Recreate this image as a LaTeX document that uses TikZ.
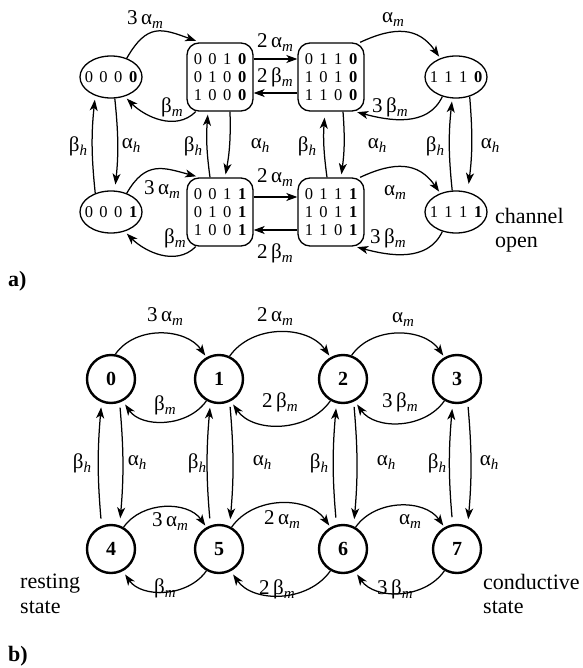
\documentclass[tikz,border=0pt]{standalone}
\usepackage{fontspec}
\setmainfont{Liberation Serif}
\usetikzlibrary{arrows.meta,shapes.geometric,calc}

\newcommand\subm{\raisebox{-4pt}{\fontsize{15}{15}\selectfont\itshape m}}
\newcommand\subh{\raisebox{-4pt}{\fontsize{15}{15}\selectfont\itshape h}}
\newcommand\alm{α\subm}
\newcommand\bem{β\subm}
\newcommand\alh{α\subh}
\newcommand\beh{β\subh}
\newcommand\bits[4]{#1\hspace{6.5pt}#2\hspace{6.5pt}#3\hspace{6.5pt}\textbf{#4}}

\begin{document}
\begin{tikzpicture}[x=1pt,y=1pt,
  every node/.style={font=\fontsize{21}{24}\selectfont},
  lab/.style={inner sep=0pt},
  txt/.style={inner sep=0pt, anchor=west, align=left, font=\fontsize{22}{24.5}\selectfont},
  st/.style={ellipse, draw, line width=1.3pt, minimum width=62pt, minimum height=42pt, inner xsep=-8pt, inner ysep=0pt, font=\fontsize{16.5}{18.3}\selectfont},
  bx/.style={draw, rounded corners=12pt, line width=1.3pt, minimum width=66pt, minimum height=68pt, inner sep=0pt, align=center, font=\fontsize{16.5}{18.3}\selectfont},
  cs/.style={circle, draw, line width=2.4pt, minimum size=48pt, inner sep=0pt, font=\fontsize{20}{20}\selectfont\bfseries},
  arr/.style={-{Stealth[length=11pt,width=8pt,inset=3pt]}, line width=1.25pt},
]
\useasboundingbox (0,0) rectangle (582,-668);

% ---------------- part a ----------------
\node[st] (A0) at (111,-77) {\bits0000};
\node[bx] (A1) at (220,-77) {\bits0010\\\bits0100\\\bits1000};
\node[bx] (A2) at (331,-77) {\bits0110\\\bits1010\\\bits1100};
\node[st] (A3) at (456,-77) {\bits1110};
\node[st] (A4) at (111,-212) {\bits0001};
\node[bx] (A5) at (220,-212) {\bits0011\\\bits0101\\\bits1001};
\node[bx] (A6) at (331,-212) {\bits0111\\\bits1011\\\bits1101};
\node[st] (A7) at (456,-212) {\bits1111};

% row 1 horizontal
\draw[arr, shorten >=4pt] (A0.50) to[out=60,in=160,looseness=1.4] (A1.120);
\node[lab] (la1) at (145,-20) {3\,\alm};
\draw[arr, shorten >=3pt] (A1.-125) to[out=-135,in=-45] (A0.-55);
\node[lab] (la2) at (172,-107) {\bem};
\draw[arr] ([yshift=18pt]A1.east) -- ([yshift=18pt]A2.west);
\node[lab] (la3) at (275,-43) {2\,\alm};
\draw[arr] ([yshift=-16pt]A2.west) -- ([yshift=-16pt]A1.east);
\node[lab] (la4) at (275,-77) {2\,\bem};
\draw[arr, shorten >=2pt] (A2.50) to[out=25,in=125,looseness=1.2] (A3.130);
\node[lab] (la5) at (393,-20) {\alm};
\draw[arr, shorten >=2pt] (A3.-125) to[out=-115,in=-15] (A2.-55);
\node[lab] (la6) at (390,-107) {3\,\bem};

% row 2 horizontal
\draw[arr, shorten >=4pt] (A4.50) to[out=60,in=165,looseness=1.3] (A5.120);
\node[lab] (la7) at (162,-190) {3\,\alm};
\draw[arr, shorten >=3pt] (A5.-125) to[out=-135,in=-45] (A4.-55);
\node[lab] (la8) at (175,-238) {\bem};
\draw[arr] ([yshift=15pt]A5.east) -- ([yshift=15pt]A6.west);
\node[lab] (la9) at (275,-178) {2\,\alm};
\draw[arr] ([yshift=-18pt]A6.west) -- ([yshift=-18pt]A5.east);
\node[lab] (la10) at (275,-253) {2\,\bem};
\draw[arr, shorten >=2pt] (A6.50) to[out=25,in=125,looseness=1.2] (A7.130);
\node[lab] (la11) at (395,-193) {\alm};
\draw[arr, shorten >=2pt] (A7.-125) to[out=-115,in=-15] (A6.-55);
\node[lab] (la12) at (388,-238) {3\,\bem};

% verticals
\draw[arr, shorten >=4pt] (A4.130) to[bend left=6] (A0.-130);
\draw[arr, shorten >=6pt] (A0.-80) to[bend left=6] (A4.80);
\draw[arr, shorten >=3pt] ([xshift=-10pt]A5.north) to[bend left=6] ([xshift=-12pt]A1.south);
\draw[arr, shorten >=3pt] ([xshift=10pt]A1.south) to[bend left=6] ([xshift=5pt]A5.north);
\draw[arr, shorten >=6pt] ([xshift=-4pt]A6.north) to[bend left=6] ([xshift=-6pt]A2.south);
\draw[arr, shorten >=3pt] ([xshift=12pt]A2.south) to[bend left=6] ([xshift=10pt]A6.north);
\draw[arr, shorten >=3pt] (A7.100) to[bend left=6] (A3.-100);
\draw[arr, shorten >=8pt] (A3.-55) to[bend left=6] (A7.60);

\node[lab] (lv1) at (78,-146) {\beh};
\node[lab] (lv2) at (131,-146) {\alh};
\node[lab] (lv3) at (193,-146) {\beh};
\node[lab] (lv4) at (260,-146) {\alh};
\node[lab] (lv5) at (307,-146) {\beh};
\node[lab] (lv6) at (377,-146) {\alh};
\node[lab] (lv7) at (435,-146) {\beh};
\node[lab] (lv8) at (490,-146) {\alh};

\node[txt] (chan) at (495,-230) {channel\\open};
\node[txt] (pa) at (8,-281) {\textbf{a)}};

% ---------------- part b ----------------
\node[cs] (B0) at (111,-379) {0};
\node[cs] (B1) at (219,-379) {1};
\node[cs] (B2) at (343,-379) {2};
\node[cs] (B3) at (457,-379) {3};
\node[cs] (B4) at (111,-549) {4};
\node[cs] (B5) at (219,-549) {5};
\node[cs] (B6) at (343,-549) {6};
\node[cs] (B7) at (457,-549) {7};

% row 1
\draw[arr, shorten >=2pt] (B0.80) to[out=55,in=125] (B1.120);
\node[lab] (lb1) at (165,-317) {3\,\alm};
\draw[arr, shorten >=4pt] (B1.-120) to[out=-125,in=-55] (B0.-62);
\node[lab] (lb2) at (165,-405) {\bem};
\draw[arr, shorten >=2pt] (B1.65) to[out=55,in=125] (B2.120);
\node[lab] (lb3) at (275,-317) {2\,\alm};
\draw[arr, shorten >=4pt] (B2.-120) to[out=-125,in=-55] (B1.-62);
\node[lab] (lb4) at (280,-402) {2\,\bem};
\draw[arr, shorten >=2pt] (B2.70) to[out=55,in=125] (B3.120);
\node[lab] (lb5) at (403,-320) {\alm};
\draw[arr, shorten >=4pt] (B3.-120) to[out=-125,in=-55] (B2.-62);
\node[lab] (lb6) at (400,-402) {3\,\bem};

% row 2
\draw[arr, shorten >=2pt] (B4.60) to[out=55,in=125] (B5.120);
\node[lab] (lb7) at (170,-522) {3\,\alm};
\draw[arr, shorten >=4pt] (B5.-120) to[out=-125,in=-55] (B4.-62);
\node[lab] (lb8) at (165,-588) {\bem};
\draw[arr, shorten >=2pt] (B5.60) to[out=55,in=125] (B6.120);
\node[lab] (lb9) at (282,-520) {2\,\alm};
\draw[arr, shorten >=4pt] (B6.-120) to[out=-125,in=-55] (B5.-62);
\node[lab] (lb10) at (277,-589) {2\,\bem};
\draw[arr, shorten >=2pt] (B6.60) to[out=55,in=125] (B7.120);
\node[lab] (lb11) at (410,-522) {\alm};
\draw[arr, shorten >=4pt] (B7.-120) to[out=-125,in=-55] (B6.-62);
\node[lab] (lb12) at (395,-589) {3\,\bem};

% verticals
\draw[arr, shorten <=7pt, shorten >=5pt] (B4.112) to[bend left=5] (B0.-112);
\draw[arr, shorten <=5pt, shorten >=7pt] (B0.-70) to[bend left=5] (B4.70);
\draw[arr, shorten <=7pt, shorten >=5pt] (B5.110) to[bend left=5] (B1.-110);
\draw[arr, shorten <=5pt, shorten >=7pt] (B1.-65) to[bend left=5] (B5.65);
\draw[arr, shorten <=7pt, shorten >=5pt] (B6.105) to[bend left=5] (B2.-105);
\draw[arr, shorten <=5pt, shorten >=7pt] (B2.-65) to[bend left=5] (B6.65);
\draw[arr, shorten <=7pt, shorten >=5pt] (B7.100) to[bend left=5] (B3.-100);
\draw[arr, shorten <=5pt, shorten >=7pt] (B3.-65) to[bend left=5] (B7.65);

\node[lab] (lw1) at (82,-463) {\beh};
\node[lab] (lw2) at (137,-463) {\alh};
\node[lab] (lw3) at (197,-463) {\beh};
\node[lab] (lw4) at (262,-463) {\alh};
\node[lab] (lw5) at (319,-463) {\beh};
\node[lab] (lw6) at (386,-463) {\alh};
\node[lab] (lw7) at (437,-463) {\beh};
\node[lab] (lw8) at (489,-463) {\alh};

\node[txt] (rest) at (20,-594) {resting\\state};
\node[txt] (cond) at (483,-594) {conductive\\state};
\node[txt] (pb) at (8,-656) {\textbf{b)}};
\end{tikzpicture}
\end{document}
